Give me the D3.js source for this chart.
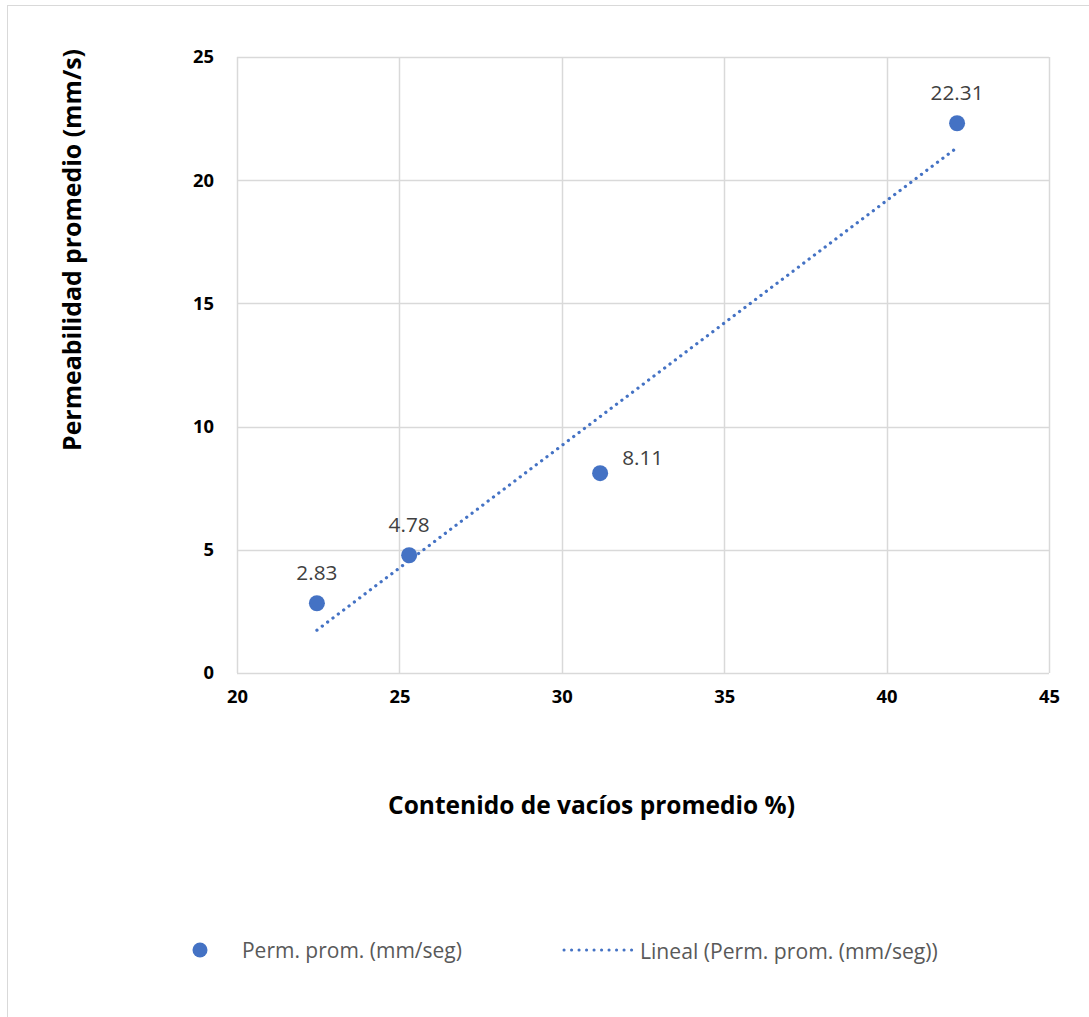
<!DOCTYPE html>
<html>
<head>
<meta charset="utf-8">
<script src="https://cdn.jsdelivr.net/npm/d3@7"></script>
<style>
  html, body { margin: 0; padding: 0; background: #fff; }
  svg { display: block; }
  text { font-family: "Open Sans", Lato, "Liberation Sans", sans-serif; }
</style>
</head>
<body>
<svg id="chart" width="1089" height="1017"></svg>
<script>
// ---- data ----
const voidContent = [22.46, 25.30, 31.18, 42.17];
const permeability = [2.83, 4.78, 8.11, 22.31];
const pointLabels = ["2.83", "4.78", "8.11", "22.31"];
const xTicks = [20, 25, 30, 35, 40, 45];
const yTicks = [0, 5, 10, 15, 20, 25];
const xTitle = "Contenido de vacíos promedio %)";
const yTitle = "Permeabilidad promedio (mm/s)";
const seriesName = "Perm. prom. (mm/seg)";
const trendName = "Lineal (Perm. prom. (mm/seg))";

const blue = "#4472c4";
const grid = "#d9d9d9";
const FONT = "'Open Sans', Lato, sans-serif";

const svg = d3.select("#chart");
const W = 1089, H = 1017;
const plot = { left: 237, top: 57, right: 1049, bottom: 673 };

// font size that makes the given text reach a target width
function fitSize(text, baseSize, weight, target) {
  const t = svg.append("text").attr("font-family", FONT).attr("font-size", baseSize)
    .attr("font-weight", weight).text(text);
  const w = t.node().getComputedTextLength();
  t.remove();
  return w > 0 ? baseSize * target / w : baseSize;
}
function fit(sel, target) {
  const fs = parseFloat(sel.attr("font-size"));
  const w = sel.node().getComputedTextLength();
  if (w > 0) sel.attr("font-size", (fs * target / w).toFixed(2));
  return sel;
}

// chart border
svg.append("rect").attr("x", 7.5).attr("y", 5.5).attr("width", W + 10).attr("height", H + 10)
  .attr("fill", "#fff").attr("stroke", grid).attr("stroke-width", 1);

const x = d3.scaleLinear().domain([20, 45]).range([plot.left, plot.right]);
const y = d3.scaleLinear().domain([0, 25]).range([plot.bottom, plot.top]);

// gridlines
const g = svg.append("g");
g.selectAll("line.v").data(xTicks).join("line")
  .attr("x1", d => Math.round(x(d)) + 0.5).attr("x2", d => Math.round(x(d)) + 0.5)
  .attr("y1", plot.top).attr("y2", plot.bottom)
  .attr("stroke", grid).attr("stroke-width", 1.5);
g.selectAll("line.h").data(yTicks).join("line")
  .attr("y1", d => Math.round(y(d)) + 0.5).attr("y2", d => Math.round(y(d)) + 0.5)
  .attr("x1", plot.left).attr("x2", plot.right)
  .attr("stroke", grid).attr("stroke-width", 1.5);

// axes (labels only)
const tickSize = fitSize("25", 17, "bold", 21);
const xAxis = d3.axisBottom(x).tickValues(xTicks).tickSize(0).tickPadding(21);
const yAxis = d3.axisLeft(y).tickValues(yTicks).tickSize(0).tickPadding(23);
const gx = svg.append("g").attr("transform", `translate(0,${plot.bottom})`).call(xAxis);
const gy = svg.append("g").attr("transform", `translate(${plot.left},0)`).call(yAxis);
[gx, gy].forEach(a => {
  a.select(".domain").remove();
  a.selectAll("text").attr("font-family", FONT)
    .attr("font-size", tickSize.toFixed(2)).attr("font-weight", "bold").attr("fill", "#000");
});
gx.selectAll("text").attr("dy", "0.5em");

// trendline via least squares
const n = voidContent.length;
const mx = d3.mean(voidContent), my = d3.mean(permeability);
let sxy = 0, sxx = 0;
for (let i = 0; i < n; i++) { sxy += (voidContent[i] - mx) * (permeability[i] - my); sxx += (voidContent[i] - mx) ** 2; }
const slope = sxy / sxx, intercept = my - slope * mx;
const x0 = d3.min(voidContent), x1 = d3.max(voidContent);
svg.append("line")
  .attr("x1", x(x0)).attr("y1", y(slope * x0 + intercept))
  .attr("x2", x(x1)).attr("y2", y(slope * x1 + intercept))
  .attr("stroke", blue).attr("stroke-width", 3.2)
  .attr("stroke-linecap", "round").attr("stroke-dasharray", "0.1 6.6");

// points
const pts = voidContent.map((v, i) => ({ x: v, y: permeability[i], label: pointLabels[i] }));
svg.selectAll("circle.pt").data(pts).join("circle")
  .attr("cx", d => x(d.x)).attr("cy", d => y(d.y)).attr("r", 8)
  .attr("fill", blue);

// labels
const labelSize = fitSize("22.31", 19, "normal", 53);
const labelPos = ["above", "above", "right", "above"];
svg.selectAll("text.lbl").data(pts).join("text")
  .attr("x", (d, i) => labelPos[i] === "right" ? x(d.x) + 22 : x(d.x))
  .attr("y", (d, i) => labelPos[i] === "right" ? y(d.y) - 16 : y(d.y) - 31)
  .attr("text-anchor", (d, i) => labelPos[i] === "right" ? "start" : "middle")
  .attr("dominant-baseline", "central")
  .attr("font-size", labelSize.toFixed(2)).attr("fill", "#404040")
  .text(d => d.label);

// axis titles
fit(svg.append("text").attr("x", 591.5).attr("y", 804)
  .attr("text-anchor", "middle").attr("dominant-baseline", "central")
  .attr("font-size", 21).attr("font-weight", "bold").attr("fill", "#000")
  .text(xTitle), 407);
fit(svg.append("text").attr("transform", `translate(71,250) rotate(-90)`)
  .attr("text-anchor", "middle").attr("dominant-baseline", "central")
  .attr("font-size", 21).attr("font-weight", "bold").attr("fill", "#000")
  .text(yTitle), 402);

// legend
const ly = 950;
svg.append("circle").attr("cx", 200).attr("cy", ly).attr("r", 7.5).attr("fill", blue);
fit(svg.append("text").attr("x", 242).attr("y", ly).attr("dominant-baseline", "central")
  .attr("font-size", 18).attr("fill", "#595959").text(seriesName), 220);
svg.append("line").attr("x1", 564).attr("x2", 632).attr("y1", ly).attr("y2", ly)
  .attr("stroke", blue).attr("stroke-width", 3).attr("stroke-linecap", "round")
  .attr("stroke-dasharray", "0.1 7.4");
fit(svg.append("text").attr("x", 640).attr("y", ly).attr("dominant-baseline", "central")
  .attr("font-size", 18).attr("fill", "#595959").text(trendName), 298);
</script>
</body>
</html>
